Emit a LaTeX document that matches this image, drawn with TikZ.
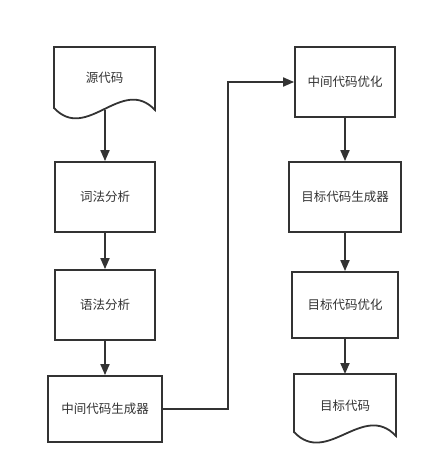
\documentclass[tikz,border=0pt]{standalone}
\usepackage{fontspec}
\newfontfamily\cjk{Noto Sans CJK SC}
\usetikzlibrary{arrows.meta}
\definecolor{ink}{HTML}{333333}
\tikzset{
  flowbox/.style={draw=ink, line width=1.8pt, rectangle, inner sep=0pt, text=ink,
    font=\cjk\fontsize{12.5}{15}\selectfont},
  doctext/.style={inner sep=0pt, text=ink, font=\cjk\fontsize{12.5}{15}\selectfont},
  docline/.style={draw=ink, line width=1.8pt, line join=miter},
  flowarrow/.style={draw=ink, line width=1.8pt, -{Triangle[length=11pt,width=9pt]}},
}
\begin{document}
\begin{tikzpicture}[x=1pt,y=-1pt]
\useasboundingbox (0,0) rectangle (433,476);
% left column
\draw[docline] (54,47) -- (155,47) -- (155,110) .. controls (122,75) and (87,143) .. (54,108) -- cycle;
\node[doctext] (src) at (104.5,78) {源代码};
\coordinate (srcb) at (105,110);
\node[flowbox, minimum width=100pt, minimum height=70pt] (lex) at (105,197) {词法分析};
\node[flowbox, minimum width=100pt, minimum height=70pt] (syn) at (105,305) {语法分析};
\node[flowbox, minimum width=114pt, minimum height=66pt] (icg) at (105,409) {中间代码生成器};
% right column
\node[flowbox, minimum width=100pt, minimum height=70pt] (opt) at (345,82) {中间代码优化};
\node[flowbox, minimum width=112pt, minimum height=70pt] (tcg) at (345,197) {目标代码生成器};
\node[flowbox, minimum width=106pt, minimum height=66pt] (topt) at (345,305) {目标代码优化};
\draw[docline] (294,374) -- (396,374) -- (396,436) .. controls (363,401) and (327,467) .. (294,432) -- cycle;
\node[doctext] (tgt) at (345,406) {目标代码};
\coordinate (tgtt) at (345,374);
% connectors
\draw[flowarrow] (srcb) -- (lex.north);
\draw[flowarrow] (lex.south) -- (syn.north);
\draw[flowarrow] (syn.south) -- (icg.north);
\draw[flowarrow] (icg.east) -- (228,409) |- (opt.west);
\draw[flowarrow] (opt.south) -- (opt.south |- tcg.north);
\draw[flowarrow] (tcg.south) -- (tcg.south |- topt.north);
\draw[flowarrow] (topt.south) -- (tgtt);
\end{tikzpicture}
\end{document}
